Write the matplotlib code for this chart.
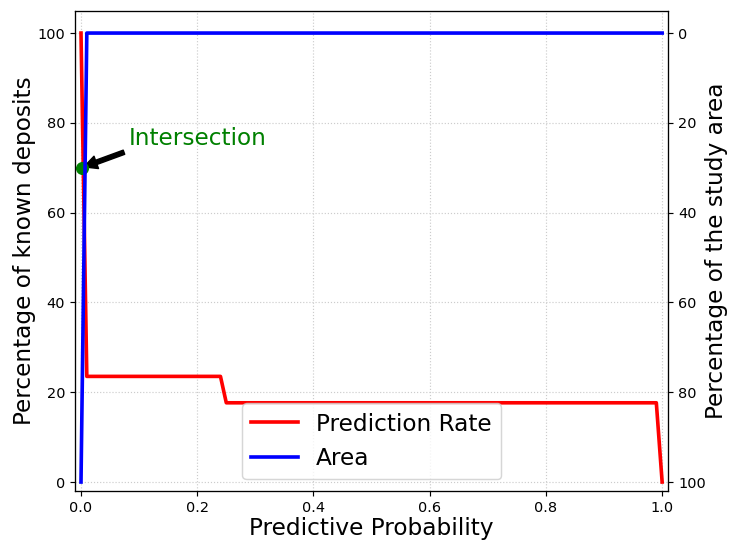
import matplotlib
matplotlib.use("Agg")
import matplotlib.pyplot as plt

# Predictive probability thresholds
prob = [0.0, 0.01, 0.24, 0.25, 0.99, 1.0]
# Percentage of known deposits above each threshold
prediction_rate = [100.0, 23.53, 23.53, 17.65, 17.65, 0.0]
# Percentage of the study area above each threshold
area_prob = [0.0, 0.01, 1.0]
area_pct = [100.0, 0.0, 0.0]

intersect_x = 0.001
intersect_y = 70.0

DPI = 104.5
fig = plt.figure(figsize=(730 / DPI, 541 / DPI), dpi=DPI)
ax = fig.add_axes([0.103, 0.0924, 0.812, 0.888])
ax2 = ax.twinx()

l1, = ax.plot(prob, prediction_rate, color="red", lw=2.5, label="Prediction Rate")
l2, = ax2.plot(area_prob, area_pct, color="blue", lw=2.5, label="Area")

ax.plot(intersect_x, intersect_y, "o", color="green", markersize=8, zorder=5)
ax.annotate("Intersection", xy=(intersect_x, intersect_y), xytext=(0.083, 75),
            fontsize=16, color="green",
            arrowprops=dict(facecolor="black", edgecolor="black", shrink=0.05,
                            width=3, headwidth=9, headlength=9))

ax.set_xlim(-0.01, 1.01)
ax.set_ylim(-2, 105)
ax2.set_ylim(102, -5)

ax.set_xticks([0, 0.2, 0.4, 0.6, 0.8, 1.0])
ax.set_yticks([0, 20, 40, 60, 80, 100])
ax2.set_yticks([0, 20, 40, 60, 80, 100])

ax.set_xlabel("Predictive Probability", fontsize=16, labelpad=1.5)
ax.set_ylabel("Percentage of known deposits", fontsize=16, labelpad=1.0)
ax2.set_ylabel("Percentage of the study area", fontsize=16, labelpad=-0.5)

ax.grid(True, linestyle=":", color="#cccccc", linewidth=0.8)

ax.legend([l1, l2], ["Prediction Rate", "Area"], loc="lower center", fontsize=16)

fig.savefig("out.png", dpi=DPI)
